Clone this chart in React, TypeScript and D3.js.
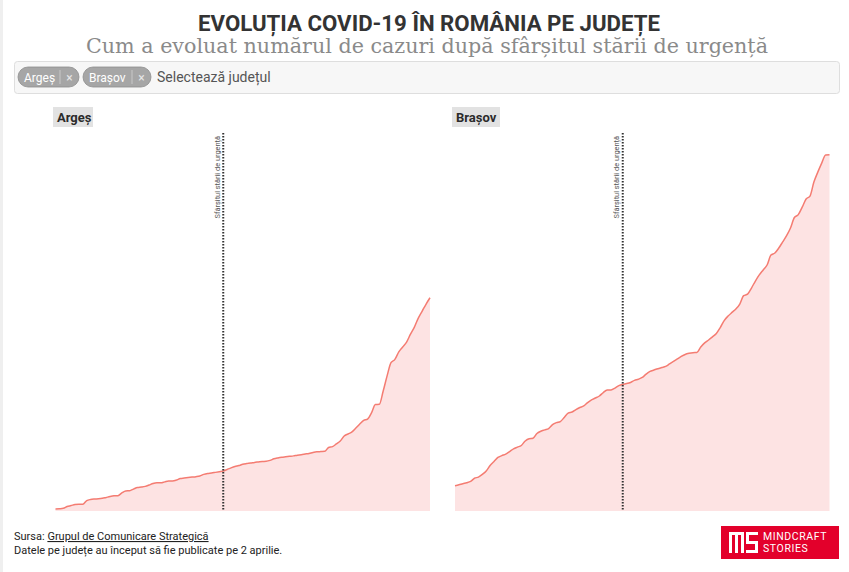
import React from "react";
import * as d3 from "d3";

// ---- data ----
const startDate = "2020-04-02";
const emergencyEnd = "2020-05-15";
const counties = ["Argeș", "Brașov"];
const argesCases = [
  9, 10, 12, 20, 24, 29, 30, 30, 46, 51, 53, 54, 56, 60, 64, 67, 68, 80, 89, 90,
  97, 104, 106, 109, 115, 122, 125, 125, 129, 133, 133, 137, 144, 146, 148, 150, 152, 155, 162, 166,
  168, 171, 174, 177, 184, 191, 197, 201, 207, 210, 212, 215, 217, 219, 220, 224, 231, 235, 238, 240,
  242, 244, 247, 249, 252, 255, 259, 262, 263, 264, 281, 285, 297, 310, 332, 341, 350, 367, 385, 401,
  407, 434, 471, 472, 531, 598, 657, 671, 704, 726, 748, 783, 814, 854, 885, 916, 944,
];
const brasovCases = [
  112, 116, 121, 125, 131, 145, 150, 162, 177, 201, 219, 237, 245, 252, 263, 275, 283, 290, 310, 320,
  322, 343, 353, 359, 365, 382, 391, 396, 414, 433, 438, 449, 458, 465, 480, 492, 500, 509, 524, 536,
  536, 544, 555, 561, 564, 569, 578, 583, 591, 606, 618, 624, 630, 635, 640, 651, 662, 673, 684, 693,
  698, 701, 702, 726, 744, 757, 771, 786, 812, 843, 863, 879, 894, 916, 953, 960, 987, 1018, 1045, 1067,
  1089, 1133, 1142, 1164, 1191, 1219, 1253, 1299, 1312, 1345, 1381, 1394, 1456, 1500, 1540, 1576, 1577,
];
const seriesValues = [argesCases, brasovCases];
const markerLabel = "Sfârșitul stării de urgență";
const title = "EVOLUȚIA COVID-19 ÎN ROMÂNIA PE JUDEȚE";
const subtitle = "Cum a evoluat numărul de cazuri după sfârșitul stării de urgență";

const W = 849;
const H = 572;
const parse = d3.utcParse("%Y-%m-%d");
const t0 = parse(startDate) as Date;
const dates = argesCases.map((_, i) => d3.utcDay.offset(t0, i));
const markerDate = parse(emergencyEnd) as Date;

const panels = [
  { x0: 55.5, x1: 430 },
  { x0: 455, x1: 829.5 },
];
const yBottom = 511;
const yTop = 133;

const allMax = d3.max(seriesValues.flat()) as number;
const y = d3.scaleLinear().domain([0, allMax * 1.061]).range([yBottom, yTop]);

const sans = "Roboto, 'Liberation Sans', Arial, sans-serif";
const serif = "'DejaVu Serif', 'Liberation Serif', serif";

function Panel({ idx }: { idx: number }) {
  const p = panels[idx];
  const vals = seriesValues[idx];
  const x = d3.scaleUtc().domain([dates[0], dates[dates.length - 1]]).range([p.x0, p.x1]);
  const data = vals.map((v, i) => ({ d: dates[i], v }));
  const area = d3
    .area<{ d: Date; v: number }>()
    .x((d) => x(d.d))
    .y0(yBottom)
    .y1((d) => y(d.v))
    .curve(d3.curveMonotoneX);
  const line = d3
    .line<{ d: Date; v: number }>()
    .x((d) => x(d.d))
    .y((d) => y(d.v))
    .curve(d3.curveMonotoneX);
  const mx = x(markerDate);
  const name = counties[idx];
  const labelW = idx === 0 ? 40 : 48;
  const lx = idx === 0 ? 53 : 452;
  return (
    <g>
      <rect x={lx} y={107} width={labelW} height={20} fill="#e2e2e2" />
      <text x={lx + 4} y={122} fontFamily={sans} fontWeight={700} fontSize={13} fill="#2b2b2b">
        {name}
      </text>
      <path d={area(data) || ""} fill="#fde3e3" />
      <path d={line(data) || ""} fill="none" stroke="#f47c72" strokeWidth={1.5} />
      <line
        x1={mx}
        x2={mx}
        y1={yTop}
        y2={yBottom}
        stroke="#333"
        strokeWidth={2}
        strokeDasharray="1.5,1.5"
      />
      <text
        transform={`translate(${mx - 3.5},${yTop + 3}) rotate(-90)`}
        textAnchor="end"
        fontFamily={sans}
        fontSize={7.4}
        fill="#555"
      >
        {markerLabel}
      </text>
    </g>
  );
}

function Pill({ x, w, label }: { x: number; w: number; label: string }) {
  return (
    <g>
      <rect x={x} y={67} width={w} height={20} rx={10} fill="#a6a6a6" stroke="#8e8e8e" strokeWidth={0.8} />
      <text x={x + 6} y={81.5} fontFamily={sans} fontSize={12} fill="#fff">
        {label}
      </text>
      <line x1={x + w - 19} x2={x + w - 19} y1={70} y2={84} stroke="#c8c8c8" strokeWidth={1} />
      <text x={x + w - 9.5} y={81.5} textAnchor="middle" fontFamily={sans} fontSize={12} fill="#e6e6e6">
        ×
      </text>
    </g>
  );
}

export default function App() {
  return (
    <svg
      width={W}
      height={H}
      style={{ position: "absolute", left: 0, top: 0, display: "block", background: "#fff" }}
    >
      <rect x={0} y={0} width={3} height={H} fill="#efefef" />
      <text
        x={429}
        y={31}
        textAnchor="middle"
        fontFamily={sans}
        fontWeight={700}
        fontSize={22}
        fill="#333"
        textLength={462}
        lengthAdjust="spacingAndGlyphs"
      >
        {title}
      </text>
      <text
        x={427}
        y={53}
        textAnchor="middle"
        fontFamily={serif}
        fontSize={21}
        fill="#8a8a8a"
        textLength={682}
        lengthAdjust="spacingAndGlyphs"
      >
        {subtitle}
      </text>
      <rect x={14.5} y={61.5} width={825} height={32} rx={3} fill="#f7f7f7" stroke="#dedede" />
      <Pill x={18} w={61} label={counties[0]} />
      <Pill x={83} w={68} label={counties[1]} />
      <text x={157} y={81.5} fontFamily={sans} fontSize={14} fill="#555">
        Selectează județul
      </text>
      {counties.map((_, i) => (
        <Panel key={i} idx={i} />
      ))}
      <text x={14} y={540} fontFamily={sans} fontSize={11} fill="#222">
        Sursa: <tspan style={{ textDecoration: "underline" }}>Grupul de Comunicare Strategică</tspan>
      </text>
      <text x={14} y={554} fontFamily={sans} fontSize={11} fill="#222">
        Datele pe județe au început să fie publicate pe 2 aprilie.
      </text>
      <g>
        <rect x={721} y={526} width={118} height={33} fill="#e3002b" />
        <g fill="#fff">
          <rect x={729} y={532} width={3} height={21} />
          <rect x={729} y={532} width={15} height={3} />
          <rect x={735} y={532} width={3} height={21} />
          <rect x={741} y={532} width={3} height={21} />
          <rect x={746} y={532} width={12} height={3} />
          <rect x={746} y={532} width={3} height={12} />
          <rect x={746} y={541} width={12} height={3} />
          <rect x={755} y={541} width={3} height={12} />
          <rect x={746} y={550} width={12} height={3} />
        </g>
        <text x={763} y={540} fontFamily={sans} fontSize={10.5} fill="#fff" letterSpacing={0.6}>
          MINDCRAFT
        </text>
        <text x={763} y={552} fontFamily={sans} fontSize={10.5} fill="#fff" letterSpacing={0.6}>
          STORIES
        </text>
      </g>
    </svg>
  );
}
